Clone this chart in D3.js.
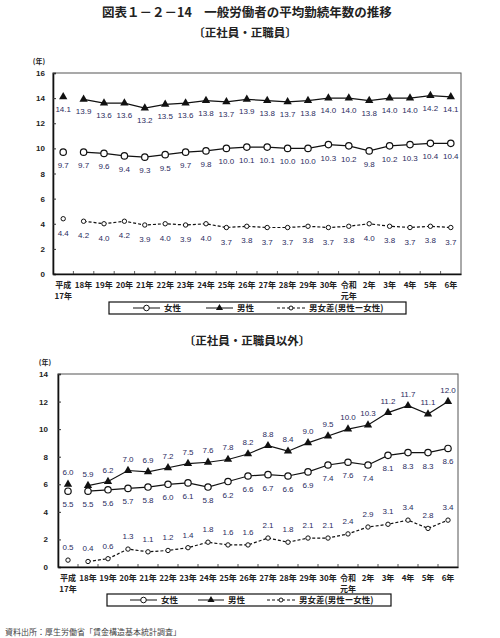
<!DOCTYPE html>
<html>
<head>
<meta charset="utf-8">
<script src="https://cdn.jsdelivr.net/npm/d3@7"></script>
<style>
  body { margin: 0; background: #fff; }
  text { font-family: "Liberation Sans", "Noto Sans CJK JP", sans-serif; }
  .jp { font-family: "Noto Sans CJK JP", sans-serif; }
</style>
</head>
<body>
<div id="chart"></div>
<script>
// categories (x axis), two-line labels split by "|"
var years = ["平成|17年", "18年", "19年", "20年", "21年", "22年", "23年", "24年", "25年",
  "26年", "27年", "28年", "29年", "30年", "令和|元年", "2年", "3年", "4年", "5年", "6年"];

// 正社員・正職員
var regFemale = [9.7, 9.7, 9.6, 9.4, 9.3, 9.5, 9.7, 9.8, 10.0, 10.1, 10.1, 10.0, 10.0, 10.3, 10.2, 9.8, 10.2, 10.3, 10.4, 10.4];
var regMale   = [14.1, 13.9, 13.6, 13.6, 13.2, 13.5, 13.6, 13.8, 13.7, 13.9, 13.8, 13.7, 13.8, 14.0, 14.0, 13.8, 14.0, 14.0, 14.2, 14.1];
var regGap    = [4.4, 4.2, 4.0, 4.2, 3.9, 4.0, 3.9, 4.0, 3.7, 3.8, 3.7, 3.7, 3.8, 3.7, 3.8, 4.0, 3.8, 3.7, 3.8, 3.7];

// 正社員・正職員以外
var nonFemale = [5.5, 5.5, 5.6, 5.7, 5.8, 6.0, 6.1, 5.8, 6.2, 6.6, 6.7, 6.6, 6.9, 7.4, 7.6, 7.4, 8.1, 8.3, 8.3, 8.6];
var nonMale   = [6.0, 5.9, 6.2, 7.0, 6.9, 7.2, 7.5, 7.6, 7.8, 8.2, 8.8, 8.4, 9.0, 9.5, 10.0, 10.3, 11.2, 11.7, 11.1, 12.0];
var nonGap    = [0.5, 0.4, 0.6, 1.3, 1.1, 1.2, 1.4, 1.8, 1.6, 1.6, 2.1, 1.8, 2.1, 2.1, 2.4, 2.9, 3.1, 3.4, 2.8, 3.4];

var topTicks = [0, 2, 4, 6, 8, 10, 12, 14, 16];
var bottomTicks = [0, 2, 4, 6, 8, 10, 12, 14];

var legendNames = ["女性", "男性", "男女差(男性ー女性)"];

var labelColor = "#2b2b5e";

var svg = d3.select("#chart").append("svg")
  .attr("width", 500)
  .attr("height", 638);

// titles
svg.append("text").attr("class", "jp")
  .attr("x", 247).attr("y", 17)
  .attr("text-anchor", "middle")
  .attr("font-size", 12.5).attr("font-weight", "bold").attr("fill", "#222")
  .text("図表１－２－14　一般労働者の平均勤続年数の推移");

svg.append("text").attr("class", "jp")
  .attr("x", 245).attr("y", 37)
  .attr("text-anchor", "middle")
  .attr("font-size", 11.5).attr("font-weight", "bold").attr("fill", "#222")
  .text("〔正社員・正職員〕");

svg.append("text").attr("class", "jp")
  .attr("x", 247).attr("y", 345)
  .attr("text-anchor", "middle")
  .attr("font-size", 11.5).attr("font-weight", "bold").attr("fill", "#222")
  .text("〔正社員・正職員以外〕");

svg.append("text").attr("class", "jp")
  .attr("x", 5).attr("y", 635)
  .attr("font-size", 8).attr("fill", "#444")
  .text("資料出所：厚生労働省「賃金構造基本統計調査」");

function drawChart(cfg) {
  var x = d3.scaleBand().domain(d3.range(years.length)).range([cfg.left, cfg.right]);
  var y = d3.scaleLinear().domain([0, cfg.max]).range([cfg.bottom, cfg.top]);
  var cx = function(i) { return x(i) + x.bandwidth() / 2; };

  var g = svg.append("g");

  // frame
  g.append("rect")
    .attr("x", cfg.left).attr("y", cfg.top)
    .attr("width", cfg.right - cfg.left).attr("height", cfg.bottom - cfg.top)
    .attr("fill", "none").attr("stroke", "#555").attr("stroke-width", 1);

  // y axis
  var yAxis = g.append("g")
    .attr("transform", "translate(" + cfg.left + ",0)")
    .call(d3.axisRight(y).tickValues(cfg.ticks).tickSize(3).tickFormat(""));
  yAxis.select(".domain").attr("stroke", "#111").attr("stroke-width", 1.6);
  yAxis.selectAll(".tick line").attr("stroke", "#333");

  g.selectAll(".ylab").data(cfg.ticks).enter().append("text")
    .attr("x", cfg.left - cfg.labGap)
    .attr("y", function(d) { return y(d) + 3; })
    .attr("text-anchor", "end")
    .attr("font-size", 8).attr("font-weight", "bold").attr("fill", "#222")
    .text(function(d) { return d; });

  g.append("text").attr("class", "jp")
    .attr("x", cfg.unitX).attr("y", cfg.top - 9)
    .attr("text-anchor", "middle")
    .attr("font-size", 7).attr("font-weight", "bold").attr("fill", "#222")
    .text("(年)");

  // x axis with inner ticks at band edges
  var xAxis = g.append("g")
    .attr("transform", "translate(0," + cfg.bottom + ")")
    .call(d3.axisBottom(x).tickSize(0).tickFormat(""));
  xAxis.select(".domain").attr("stroke", "#111").attr("stroke-width", 1.6);
  g.selectAll(".xtick").data(d3.range(1, years.length)).enter().append("line")
    .attr("x1", function(i) { return x(i); })
    .attr("x2", function(i) { return x(i); })
    .attr("y1", cfg.bottom).attr("y2", cfg.bottom - 3)
    .attr("stroke", "#333").attr("stroke-width", 0.8);

  var xl = g.selectAll(".xlab").data(years).enter().append("text")
    .attr("class", "jp")
    .attr("text-anchor", "middle")
    .attr("font-size", 8).attr("font-weight", "bold").attr("fill", "#222");
  xl.each(function(d, i) {
    var parts = d.split("|");
    var t = d3.select(this);
    parts.forEach(function(p, k) {
      t.append("tspan")
        .attr("x", cx(i))
        .attr("y", cfg.bottom + 14 + k * 11)
        .text(p);
    });
  });

  // lines (first year is not connected)
  function line() {
    return d3.line()
      .defined(function(d, i) { return i > 0; })
      .x(function(d, i) { return cx(i); })
      .y(function(d) { return y(d); });
  }

  var series = [
    { vals: cfg.gap, dash: "3,2", kind: "gap", off: cfg.gapOff },
    { vals: cfg.female, dash: null, kind: "female", off: cfg.femaleOff },
    { vals: cfg.male, dash: null, kind: "male", off: cfg.maleOff }
  ];

  series.forEach(function(s) {
    g.append("path")
      .datum(s.vals)
      .attr("fill", "none")
      .attr("stroke", "#111")
      .attr("stroke-width", 1.2)
      .attr("stroke-dasharray", s.dash)
      .attr("d", line()(s.vals));

    var m = g.selectAll(".m-" + s.kind).data(s.vals).enter();
    if (s.kind === "male") {
      m.append("path")
        .attr("transform", function(d, i) { return "translate(" + cx(i) + "," + y(d) + ")"; })
        .attr("d", d3.symbol().type(d3.symbolTriangle).size(30))
        .attr("fill", "#111");
    } else {
      m.append("circle")
        .attr("cx", function(d, i) { return cx(i); })
        .attr("cy", function(d) { return y(d); })
        .attr("r", s.kind === "female" ? 3.2 : 2.2)
        .attr("fill", "#fff")
        .attr("stroke", "#111")
        .attr("stroke-width", s.kind === "female" ? 1.2 : 1);
    }

    g.selectAll(".l-" + s.kind).data(s.vals).enter().append("text")
      .attr("x", function(d, i) { return cx(i); })
      .attr("y", function(d) { return y(d) + s.off + 3; })
      .attr("text-anchor", "middle")
      .attr("font-size", 8)
      .attr("fill", labelColor)
      .text(function(d) { return d.toFixed(1); });
  });

  // legend
  var lg = g.append("g");
  lg.append("rect")
    .attr("x", cfg.legend.x).attr("y", cfg.legend.y)
    .attr("width", cfg.legend.w).attr("height", 12)
    .attr("fill", "#fff").attr("stroke", "#111").attr("stroke-width", 1.2);
  var ly = cfg.legend.y + 6;
  cfg.legend.items.forEach(function(it, k) {
    lg.append("line")
      .attr("x1", it[0]).attr("x2", it[1])
      .attr("y1", ly).attr("y2", ly)
      .attr("stroke", "#111").attr("stroke-width", 1)
      .attr("stroke-dasharray", k === 2 ? "3,2" : null);
    var mx = (it[0] + it[1]) / 2;
    if (k === 1) {
      lg.append("path")
        .attr("transform", "translate(" + mx + "," + ly + ")")
        .attr("d", d3.symbol().type(d3.symbolTriangle).size(22))
        .attr("fill", "#111");
    } else {
      lg.append("circle")
        .attr("cx", mx).attr("cy", ly)
        .attr("r", k === 0 ? 2.8 : 2)
        .attr("fill", "#fff").attr("stroke", "#111").attr("stroke-width", 1);
    }
    lg.append("text").attr("class", "jp")
      .attr("x", it[1] + 4).attr("y", ly + 3)
      .attr("font-size", 8.5).attr("font-weight", "bold").attr("fill", "#222")
      .text(legendNames[k]);
  });
}

drawChart({
  left: 53, right: 461, top: 73, bottom: 274, max: 16, ticks: topTicks,
  labGap: 8, unitX: 39,
  female: regFemale, male: regMale, gap: regGap,
  femaleOff: 13, maleOff: 12, gapOff: 14,
  legend: { x: 109, y: 302, w: 297, items: [[133, 160], [206, 233], [277, 305]] }
});

drawChart({
  left: 58, right: 458, top: 374, bottom: 567, max: 14, ticks: bottomTicks,
  labGap: 10, unitX: 45,
  female: nonFemale, male: nonMale, gap: nonGap,
  femaleOff: 13, maleOff: -12, gapOff: -13,
  legend: { x: 107, y: 594, w: 284, items: [[130, 157], [198, 224], [267, 295]] }
});
</script>
</body>
</html>
